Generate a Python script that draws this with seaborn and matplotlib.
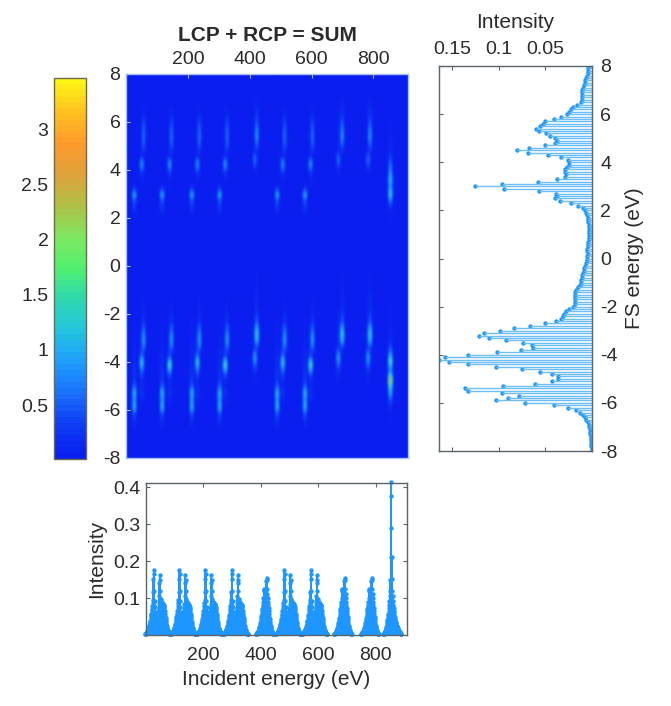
import numpy as np
import matplotlib
matplotlib.use('Agg')
import matplotlib.pyplot as plt
from matplotlib.colors import LinearSegmentedColormap
import seaborn as sns

# ---- right panel: summed intensity, FS energy from 8 down to -8 in 0.1 steps
fs_sum = [
    .0035, .0039, .0042, .0046, .0053, .0067, .0074, .0077, .0084, .0095,
    .0102, .0106, .0106, .0102, .0109, .0116, .0158, .0201, .0229, .0243,
    .0271, .0334, .0412, .0503, .0521, .0556, .0598, .0567, .0493, .0447,
    .0401, .0380, .0401, .0503, .0679, .0803, .0690, .0468, .0327, .0257,
    .0243, .0243, .0264, .0285, .0285, .0278, .0285, .0377, .0584, .0968,
    .1257, .0947, .0567, .0391, .0373, .0398, .0341, .0229, .0151, .0099,
    .0074, .0060, .0049, .0042, .0039, .0039, .0035, .0035, .0035, .0035,
    .0035, .0035, .0035, .0039, .0042, .0046, .0049, .0049, .0046, .0049,
    .0053, .0053, .0060, .0070, .0081, .0088, .0095, .0102, .0109, .0116,
    .0123, .0127, .0151, .0172, .0180, .0183, .0183, .0183, .0183, .0187,
    .0201, .0243, .0275, .0299, .0313, .0327, .0387, .0500, .0669, .0831,
    .0989, .1158, .1207, .1109, .0922, .0743, .0644, .0637, .0764, .1014,
    .1324, .1580, .1640, .1528, .1327, .1031, .0750, .0553, .0426, .0363,
    .0363, .0433, .0609, .0954, .1362, .1334, .0961, .0785, .0901, .1031,
    .0722, .0408, .0257, .0176, .0130, .0099, .0074, .0060, .0046, .0035,
    .0028, .0025, .0021, .0018, .0014, .0011, .0011, .0007, .0007, .0004,
    .0004,
]

# ---- bottom panel: resonance clusters, values at 1 eV steps
pair_peaks = [27, 116, 207, 299, 482, 574]
pair_start = -30
pair_vals = [
    .002, .003, .004, .005, .006, .007, .008, .009, .010, .012,
    .014, .016, .018, .020, .023, .026, .030, .034, .038, .043,
    .048, .053, .058, .064, .070, .078, .086, .094, .115, .152,
    .175, .165, .118, .092, .075, .062, .054, .048, .044, .042,
    .041, .042, .044, .048, .052, .058, .064, .072, .085, .105,
    .140, .162, .150, .118, .098, .090, .088, .088, .087, .086,
    .085, .084, .083, .082, .080, .078, .075, .070, .064, .058,
    .052, .046, .040, .034, .029, .024, .020, .017, .014, .012,
    .010, .008, .006, .005, .004, .003, .002, .002,
]
close_peaks = [411, 683, 777]
close_start = -28
close_vals = [
    .002, .003, .004, .005, .006, .007, .008, .009, .011, .013,
    .015, .018, .021, .024, .028, .032, .036, .041, .046, .052,
    .058, .064, .070, .076, .082, .090, .100, .118, .125, .122,
    .115, .105, .100, .100, .108, .125, .145, .155, .148, .125,
    .110, .100, .090, .080, .072, .064, .056, .049, .042, .036,
    .030, .025, .021, .017, .014, .011, .009, .007, .005, .004,
    .003, .002,
]
big_peak = [853]
big_start = -26
big_vals = [
    .002, .003, .004, .005, .006, .008, .010, .012, .015, .018,
    .021, .025, .030, .035, .040, .046, .052, .058, .065, .073,
    .082, .092, .105, .120, .150, .210, .415, .375, .290, .210,
    .152, .120, .105, .092, .082, .073, .066, .060, .054, .049,
    .044, .040, .036, .033, .030, .027, .025, .023, .021, .019,
    .017, .015, .013, .012, .010, .009, .008, .007, .006, .005,
    .004, .003, .002,
]

# ---- map: vertical profiles, FS energy from 8 down to -8 in 0.2 steps
prof_a = [
    .03, .03, .03, .03, .03, .03, .03, .03, .03, .03,
    .03, .03, .03, .03, .03, .03, .03, .03, .03, .03,
    .03, .04, .06, .12, .45, 1.25, .55, .35, .25, .12,
    .06, .04, .03, .03, .03, .03, .03, .03, .03, .03,
    .03, .03, .03, .03, .03, .03, .04, .04, .05, .05,
    .06, .07, .08, .09, .10, .11, .12, .12, .14, .16,
    .20, .22, .25, .25, .30, .45, .90, 1.30, .90, 1.10,
    1.15, .50, .30, .20, .10, .06, .04, .03, .03, .03,
    .03,
]
prof_b = [
    .03, .03, .03, .03, .03, .04, .06, .07, .08, .09,
    .10, .10, .10, .10, .10, .10, .12, .20, .85, .85,
    .35, .15, .10, .07, .05, .04, .03, .03, .03, .03,
    .03, .03, .03, .03, .03, .03, .03, .03, .03, .03,
    .03, .03, .03, .03, .03, .04, .04, .05, .05, .06,
    .08, .10, .12, .14, .16, .20, .22, .28, .40, .70,
    1.40, 1.20, .70, .35, .20, .15, .18, .25, .15, .08,
    .05, .04, .03, .03, .03, .03, .03, .03, .03, .03,
    .03,
]
prof_b_low = [
    .03, .03, .03, .03, .03, .04, .06, .07, .08, .09,
    .10, .10, .10, .10, .10, .10, .12, .20, .85, .85,
    .35, .15, .10, .07, .05, .04, .03, .03, .03, .03,
    .03, .03, .03, .03, .03, .03, .03, .03, .03, .03,
    .03, .03, .03, .03, .03, .04, .04, .05, .05, .06,
    .08, .10, .12, .14, .16, .20, .22, .28, .30, .40,
    1.20, 1.70, 1.00, .40, .20, .15, .18, .25, .15, .08,
    .05, .04, .03, .03, .03, .03, .03, .03, .03, .03,
    .03,
]
prof_b_high = [
    .03, .03, .03, .03, .03, .04, .06, .10, .16, .28,
    .40, .50, .60, .62, .50, .35, .20, .10, .06, .04,
    .03, .03, .03, .03, .03, .03, .03, .03, .03, .03,
    .03, .03, .03, .03, .03, .03, .03, .03, .03, .03,
    .03, .03, .03, .03, .04, .05, .06, .08, .10, .12,
    .15, .22, .30, .50, .75, .90, .90, .70, .30, .12,
    .06, .04, .03, .03, .03, .03, .03, .03, .03, .03,
    .03, .03, .03, .03, .03, .03, .03, .03, .03, .03,
    .03,
]
prof_c_low = [
    .03, .03, .03, .03, .03, .04, .05, .06, .07, .08,
    .09, .09, .09, .09, .09, .10, .20, .60, .65, .30,
    .12, .08, .05, .04, .03, .03, .03, .03, .03, .03,
    .03, .03, .03, .03, .03, .03, .03, .03, .03, .03,
    .03, .03, .03, .03, .03, .04, .04, .05, .05, .06,
    .08, .10, .12, .14, .16, .18, .20, .20, .60, .95,
    .90, .55, .25, .15, .10, .08, .06, .05, .04, .03,
    .03, .03, .03, .03, .03, .03, .03, .03, .03, .03,
    .03,
]
prof_c_high = [
    .03, .03, .03, .03, .06, .10, .15, .20, .25, .35,
    .50, .70, .85, .85, .65, .35, .15, .08, .05, .04,
    .03, .03, .03, .03, .03, .03, .03, .03, .03, .03,
    .03, .03, .03, .03, .03, .03, .03, .03, .04, .05,
    .06, .07, .08, .09, .10, .12, .14, .16, .18, .20,
    .30, .40, .60, 1.00, 1.40, 1.40, 1.00, .40, .15, .08,
    .05, .04, .03, .03, .03, .03, .03, .03, .03, .03,
    .03, .03, .03, .03, .03, .03, .03, .03, .03, .03,
    .03,
]
prof_d = [
    .03, .03, .03, .03, .03, .04, .04, .04, .05, .06,
    .08, .09, .10, .12, .13, .15, .20, .30, .50, .70,
    .85, 1.10, 1.25, .95, 1.20, 1.50, .85, .35, .20, .10,
    .07, .06, .05, .05, .04, .04, .04, .03, .03, .03,
    .03, .03, .03, .03, .04, .04, .05, .05, .06, .07,
    .08, .09, .10, .12, .13, .15, .20, .40, .70, 1.20,
    1.70, 1.30, .80, 1.60, 2.70, 1.90, 1.20, 1.10, .50, .30,
    .15, .10, .08, .06, .04, .03, .03, .03, .03, .03,
    .03,
]
map_a_cols = [27, 119, 210, 302, 486, 578]
map_b_cols = [48, 231, 505]
map_b_low_cols = [140, 322, 597]
map_b_high_cols = [54, 146, 237, 328, 511, 603]
map_c_low_cols = [414, 688, 780]
map_c_high_cols = [422, 696, 788]
map_d_cols = [857]
map_step = 6
map_side = 0.5
map_background = 0.03

cbar_colors = ['#0a1ef0', '#0f3cf5', '#1a6ffb', '#1f9cff', '#22c4e0',
               '#2cd8b0', '#50f070', '#7ee860', '#aec046', '#e0a23a',
               '#ff9a2c', '#ffc020', '#fff514']

blue = '#1e96ff'
stem_blue = '#6cbdf8'
edge = '#5a6468'
text_color = '#2a2a2a'
W, H = 671, 706

sns.set_theme(style='ticks')
plt.rcParams['font.family'] = ['Liberation Sans', 'DejaVu Sans']
plt.rcParams['text.color'] = text_color
plt.rcParams['axes.labelcolor'] = text_color
plt.rcParams['xtick.color'] = text_color
plt.rcParams['ytick.color'] = text_color
plt.rcParams['axes.unicode_minus'] = False


def box(left, top, right, bottom):
    return [left / W, 1 - bottom / H, (right - left) / W, (bottom - top) / H]


def style(ax, size=14, pad=4):
    ax.tick_params(direction='in', length=3, width=0.8, labelsize=size, color=edge, pad=pad)
    for s in ax.spines.values():
        s.set_color(edge)
        s.set_linewidth(1.0)


fig = plt.figure(figsize=(W / 100, H / 100), dpi=100, facecolor='white')

# ---- map
cmap = LinearSegmentedColormap.from_list('rixs', cbar_colors, N=64)
n_cols = int(round(912 / map_step))
grid = np.full((81, n_cols), map_background)
for cols, prof in [(map_a_cols, prof_a), (map_b_cols, prof_b), (map_b_low_cols, prof_b_low),
                   (map_b_high_cols, prof_b_high), (map_c_low_cols, prof_c_low),
                   (map_c_high_cols, prof_c_high), (map_d_cols, prof_d)]:
    prof = np.array(prof)
    for c in cols:
        i = c // map_step
        grid[:, i] = np.maximum(grid[:, i], prof)
        grid[:, i - 1] = np.maximum(grid[:, i - 1], prof * map_side)
        grid[:, i + 1] = np.maximum(grid[:, i + 1], prof * map_side)

ax = fig.add_axes(box(126, 74, 408, 458))
im = ax.imshow(grid, aspect='auto', extent=[0, 912, -8, 8], origin='upper', cmap=cmap,
               vmin=0.01, vmax=3.47, interpolation='bicubic')
ax.set_xticks([200, 400, 600, 800])
ax.set_yticks(np.arange(-8, 9, 2))
ax.xaxis.tick_top()
style(ax)
for s in ax.spines.values():
    s.set_color('#a8bdf0')
ax.tick_params(color='#a8bdf0')
ax.set_title('LCP + RCP = SUM', fontsize=15, fontweight='bold', pad=24)

# ---- colorbar
cax = fig.add_axes(box(54, 78, 86, 459))
cb = fig.colorbar(im, cax=cax)
cb.set_ticks([0.5, 1, 1.5, 2, 2.5, 3])
cb.set_ticklabels(['0.5', '1', '1.5', '2', '2.5', '3'])
cax.yaxis.set_ticks_position('left')
cax.tick_params(direction='in', length=3, width=0.8, labelsize=14, color=edge, pad=4)
cb.outline.set_edgecolor('#6a6a50')
cb.outline.set_linewidth(1.0)

# ---- right panel
fs_energy = np.linspace(8, -8, 161)
side = fig.add_axes(box(439, 66, 592, 451))
side.hlines(fs_energy, 0, fs_sum, color=stem_blue, linewidth=1.0)
sns.scatterplot(x=fs_sum, y=fs_energy, color=blue, s=10, linewidth=0, ax=side)
side.set_xlim(0.164, 0.0)
side.set_ylim(-8, 8)
side.set_xticks([0.15, 0.1, 0.05])
side.set_xticklabels(['0.15', '0.1', '0.05'])
side.set_yticks(np.arange(-8, 9, 2))
side.xaxis.tick_top()
side.xaxis.set_label_position('top')
side.yaxis.tick_right()
side.yaxis.set_label_position('right')
side.tick_params(bottom=True, left=True)
style(side, pad=6)
side.set_xlabel('Intensity', fontsize=15, labelpad=9)
side.set_ylabel('FS energy (eV)', fontsize=15, labelpad=5)

# ---- bottom panel
inc_x = []
inc_y = []
for peaks, start, vals in [(pair_peaks, pair_start, pair_vals), (close_peaks, close_start, close_vals),
                           (big_peak, big_start, big_vals)]:
    for p in peaks:
        inc_x.extend(p + start + np.arange(len(vals)))
        inc_y.extend(vals)
order = np.argsort(inc_x)
inc_x = np.array(inc_x)[order]
inc_y = np.array(inc_y)[order]

low = fig.add_axes(box(146, 483, 407, 635))
low.vlines(inc_x, 0, inc_y, color=blue, linewidth=1.4)
sns.scatterplot(x=inc_x, y=inc_y, color=blue, s=10, linewidth=0, ax=low, clip_on=False)
low.set_xlim(0, 909)
low.set_ylim(0, 0.411)
low.set_xticks([200, 400, 600, 800])
low.set_yticks([0.1, 0.2, 0.3, 0.4])
low.set_yticklabels(['0.1', '0.2', '0.3', '0.4'])
low.tick_params(top=True, right=True)
style(low)
low.tick_params(axis='x', pad=9)
low.set_xlabel('Incident energy (eV)', fontsize=15, labelpad=4)
low.set_ylabel('Intensity', fontsize=15, labelpad=5)

fig.savefig('out.png', dpi=100)
